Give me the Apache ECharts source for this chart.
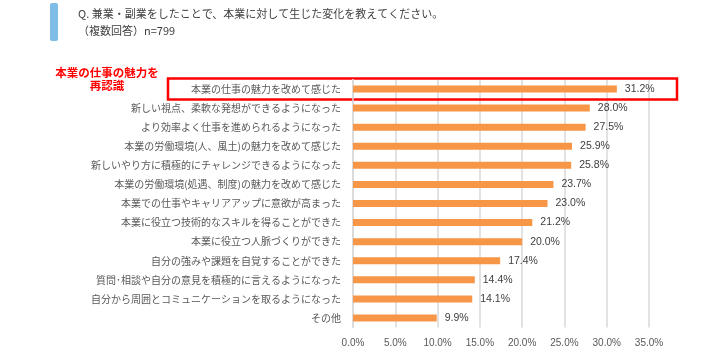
<!DOCTYPE html>
<html><head><meta charset="utf-8">
<script src="https://cdn.jsdelivr.net/npm/echarts@6/dist/echarts.min.js"></script>
<style>html,body{margin:0;padding:0;background:#fff;}#c{width:720px;height:356px;}</style>
</head><body><div id="c"></div>
<script>
var categories = [
  "本業の仕事の魅力を改めて感じた",
  "新しい視点、柔軟な発想ができるようになった",
  "より効率よく仕事を進められるようになった",
  "本業の労働環境(人、風土)の魅力を改めて感じた",
  "新しいやり方に積極的にチャレンジできるようになった",
  "本業の労働環境(処遇、制度)の魅力を改めて感じた",
  "本業での仕事やキャリアアップに意欲が高まった",
  "本業に役立つ技術的なスキルを得ることができた",
  "本業に役立つ人脈づくりができた",
  "自分の強みや課題を自覚することができた",
  "質問･相談や自分の意見を積極的に言えるようになった",
  "自分から周囲とコミュニケーションを取るようになった",
  "その他"
];
var values = [31.2, 28.0, 27.5, 25.9, 25.8, 23.7, 23.0, 21.2, 20.0, 17.4, 14.4, 14.1, 9.9];
var titleLine1 = "Q. 兼業・副業をしたことで、本業に対して生じた変化を教えてください。";
var titleLine2 = "（複数回答）n=799";
var noteLines = ["本業の仕事の魅力を", "再認識"];

var font = '"Noto Sans CJK JP", "Noto Sans", sans-serif';
var chart = echarts.init(document.getElementById('c'), null, {renderer: 'canvas'});
chart.setOption({
  animation: false,
  backgroundColor: '#fff',
  grid: {left: 353, right: 71, top: 79.5, bottom: 28.5, containLabel: false},
  xAxis: {
    type: 'value', min: 0, max: 35, interval: 5,
    axisLine: {show: false}, axisTick: {show: false},
    splitLine: {show: true, lineStyle: {color: '#d9d9d9', width: 1.5}},
    axisLabel: {formatter: function(v){return v.toFixed(1) + '%';}, color: '#595959', fontSize: 10, fontFamily: 'Liberation Sans, sans-serif', margin: 11}
  },
  yAxis: {
    type: 'category', data: categories, inverse: true,
    axisLine: {show: true, lineStyle: {color: '#d9d9d9', width: 1.5}},
    axisTick: {show: false},
    axisLabel: {color: '#595959', fontSize: 10, fontFamily: font, margin: 12}
  },
  series: [{
    type: 'bar', data: values, barWidth: 7,
    itemStyle: {color: '#F79646'},
    label: {show: true, position: 'right', distance: 8, color: '#404040', fontSize: 10.5,
      fontFamily: 'Liberation Sans, sans-serif',
      formatter: function(p){return p.value.toFixed(1) + '%';}}
  }]
});

var yFirst = chart.convertToPixel({yAxisIndex: 0}, categories[0]);
chart.setOption({
  graphic: [
    {type: 'rect', shape: {x: 50, y: 3, width: 8, height: 38, r: 2}, style: {fill: '#7DBDE6'}},
    {type: 'text', x: 78, y: 14, style: {text: titleLine1, fill: '#404040', font: '11px ' + font, verticalAlign: 'middle'}},
    {type: 'text', x: 78, y: 31, style: {text: titleLine2, fill: '#404040', font: '11px ' + font, verticalAlign: 'middle'}},
    {type: 'text', x: 107, y: yFirst - 16.5, style: {text: noteLines[0], fill: '#ff0000', font: 'bold 11.5px ' + font, align: 'center', verticalAlign: 'middle'}},
    {type: 'text', x: 107, y: yFirst - 3, style: {text: noteLines[1], fill: '#ff0000', font: 'bold 11.5px ' + font, align: 'center', verticalAlign: 'middle'}},
    {type: 'rect', shape: {x: 168, y: yFirst - 10.5, width: 509, height: 21}, style: {fill: 'none', stroke: '#ff0000', lineWidth: 2.5}}
  ]
});
</script></body></html>
